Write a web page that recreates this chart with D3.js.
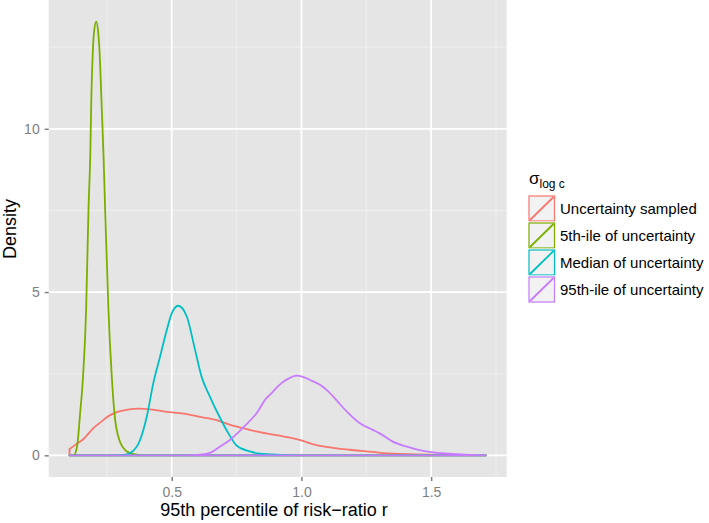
<!DOCTYPE html>
<html><head><meta charset="utf-8">
<script src="https://cdn.jsdelivr.net/npm/d3@7"></script>
<style>body{margin:0;background:#fff;}svg{display:block;font-family:"Liberation Sans",Arial,sans-serif;}</style>
</head><body><svg id="c" width="709" height="523"></svg>
<script>
const seriesNames = ["Uncertainty sampled","5th-ile of uncertainty","Median of uncertainty","95th-ile of uncertainty"];
const seriesColors = ["#F8766D","#7CAE00","#00BFC4","#C77CFF"];
const xRange = [0.106, 1.711];
const xTicks = [0.5, 1.0, 1.5];
const xTickLabels = ["0.5","1.0","1.5"];
const yTicks = [0, 5, 10];
const yTickLabels = ["0","5","10"];

const sampledX = [0.106,0.128,0.16,0.20,0.224,0.256,0.288,0.33,0.372,0.417,0.481,0.545,0.609,0.673,0.72,0.775,0.82,0.865,0.929,0.968,1.006,1.05,1.096,1.186,1.25,1.314,1.44,1.55,1.711];
const sampledY = [0.19,0.32,0.5,0.85,1.0,1.2,1.32,1.40,1.43,1.41,1.33,1.28,1.18,1.08,0.95,0.83,0.74,0.67,0.58,0.52,0.44,0.33,0.26,0.17,0.12,0.07,0.03,0.01,0.0];

const p5X = [0.106,0.122,0.135,0.147,0.158,0.170,0.179,0.186,0.190,0.196,0.201,0.209,0.216,0.2215,0.229,0.237,0.2435,0.256,0.269,0.279,0.298,0.327,0.359,0.40,1.711];
const p5Y = [0,0,0.27,1.3,2.4,4.45,7.5,9.2,10.9,12.4,13.0,13.28,13.0,12.4,10.9,9.2,7.5,4.45,2.4,1.3,0.47,0.12,0.03,0,0];

const medX = [0.106,0.28,0.314,0.340,0.378,0.404,0.429,0.455,0.481,0.500,0.525,0.558,0.590,0.615,0.647,0.686,0.718,0.75,0.801,0.84,0.878,0.942,1.0,1.711];
const medY = [0,0,0.01,0.07,0.47,1.19,2.21,3.02,3.84,4.35,4.58,4.25,3.23,2.41,1.80,1.15,0.68,0.30,0.12,0.05,0.03,0.005,0,0];

const p95X = [0.106,0.55,0.609,0.65,0.686,0.724,0.775,0.827,0.865,0.878,0.923,0.95,0.981,1.0,1.035,1.077,1.10,1.128,1.147,1.18,1.224,1.275,1.30,1.352,1.40,1.455,1.50,1.57,1.65,1.711];
const p95Y = [0,0,0.02,0.08,0.27,0.47,0.85,1.29,1.75,1.85,2.21,2.35,2.44,2.42,2.30,2.13,1.98,1.75,1.58,1.3,0.99,0.78,0.68,0.42,0.28,0.16,0.10,0.05,0.01,0];

const seriesX = [sampledX, p5X, medX, p95X];
const seriesY = [sampledY, p5Y, medY, p95Y];

const svg = d3.select("#c");
const panel = {l:48.7, r:506.7, t:0, b:477};
const span = xRange[1]-xRange[0];
const x = d3.scaleLinear().domain([xRange[0]-0.05*span, xRange[1]+0.05*span]).range([panel.l, panel.r]);
const yMax = 13.28;
const y = d3.scaleLinear().domain([-0.05*yMax, yMax*1.05]).range([panel.b, panel.t]);

svg.append("rect").attr("x",panel.l).attr("y",panel.t).attr("width",panel.r-panel.l).attr("height",panel.b-panel.t).attr("fill","#E5E5E5");
const minorX = [0.25,0.75,1.25,1.75], minorY=[2.5,7.5,12.5];
const g = svg.append("g");
minorX.forEach(v=>g.append("line").attr("x1",x(v)).attr("x2",x(v)).attr("y1",panel.t).attr("y2",panel.b).attr("stroke","#F2F2F2").attr("stroke-width",0.8));
minorY.forEach(v=>g.append("line").attr("y1",y(v)).attr("y2",y(v)).attr("x1",panel.l).attr("x2",panel.r).attr("stroke","#F2F2F2").attr("stroke-width",0.8));
xTicks.forEach(v=>g.append("line").attr("x1",x(v)).attr("x2",x(v)).attr("y1",panel.t).attr("y2",panel.b).attr("stroke","#FFFFFF").attr("stroke-width",1.8));
yTicks.forEach(v=>g.append("line").attr("y1",y(v)).attr("y2",y(v)).attr("x1",panel.l).attr("x2",panel.r).attr("stroke","#FFFFFF").attr("stroke-width",1.8));

// axes
const xAxis = d3.axisBottom(x).tickValues(xTicks).tickFormat((d,i)=>xTickLabels[i]).tickSize(4).tickPadding(6);
const ax = svg.append("g").attr("transform",`translate(0,${panel.b})`).call(xAxis);
ax.select(".domain").remove();
ax.selectAll("line").attr("stroke","#7F7F7F").attr("stroke-width",1.5);
ax.selectAll("text").attr("fill","#7F7F7F").attr("font-size",14).attr("font-family","Liberation Sans, Arial, sans-serif");
const yAxis = d3.axisLeft(y).tickValues(yTicks).tickFormat((d,i)=>yTickLabels[i]).tickSize(4).tickPadding(5);
const ay = svg.append("g").attr("transform",`translate(${panel.l},0)`).call(yAxis);
ay.select(".domain").remove();
ay.selectAll("line").attr("stroke","#7F7F7F").attr("stroke-width",1.5);
ay.selectAll("text").attr("fill","#7F7F7F").attr("font-size",14).attr("font-family","Liberation Sans, Arial, sans-serif");

svg.append("text").attr("x",274).attr("y",516).attr("text-anchor","middle").attr("font-size",18).attr("fill","#000").text("95th percentile of risk\u2212ratio r");
svg.append("text").attr("transform","translate(16,229) rotate(-90)").attr("text-anchor","middle").attr("font-size",18).attr("fill","#000").text("Density");

// densities
const line = d3.line().x(d=>x(d[0])).y(d=>y(d[1])).curve(d3.curveMonotoneX);
seriesX.forEach((xs,i)=>{
  const pts = xs.map((v,j)=>[v, seriesY[i][j]]);
  const d = line(pts) + `L${x(xRange[1])},${y(0)}L${x(xRange[0])},${y(0)}Z`;
  svg.append("path").attr("d",d).attr("fill","none").attr("stroke",seriesColors[i]).attr("stroke-width",1.8).attr("stroke-linejoin","round");
});

// legend
const lg = svg.append("g");
const lt = lg.append("text").attr("x",529).attr("y",184).attr("font-size",17).attr("fill","#000");
lt.append("tspan").text("\u03C3");
lt.append("tspan").attr("font-size",12).attr("dy",4).text("log c");
const key0 = 195, keyH = 27, keyX = 528, keyW = 27.5;
seriesNames.forEach((nm,i)=>{
  const ky = key0 + i*keyH;
  lg.append("rect").attr("x",keyX).attr("y",ky).attr("width",keyW).attr("height",keyH).attr("fill","#F2F2F2").attr("stroke","#FFFFFF").attr("stroke-width",1);
  lg.append("rect").attr("x",keyX+1).attr("y",ky+1).attr("width",keyW-2).attr("height",keyH-2).attr("fill","none").attr("stroke",seriesColors[i]).attr("stroke-width",1.2);
  lg.append("line").attr("x1",keyX+2).attr("y1",ky+keyH-2).attr("x2",keyX+keyW-2).attr("y2",ky+2).attr("stroke",seriesColors[i]).attr("stroke-width",1.8);
  lg.append("text").attr("x",560).attr("y",ky+keyH/2+5).attr("font-size",15).attr("fill","#000").text(nm);
});
</script></body></html>
